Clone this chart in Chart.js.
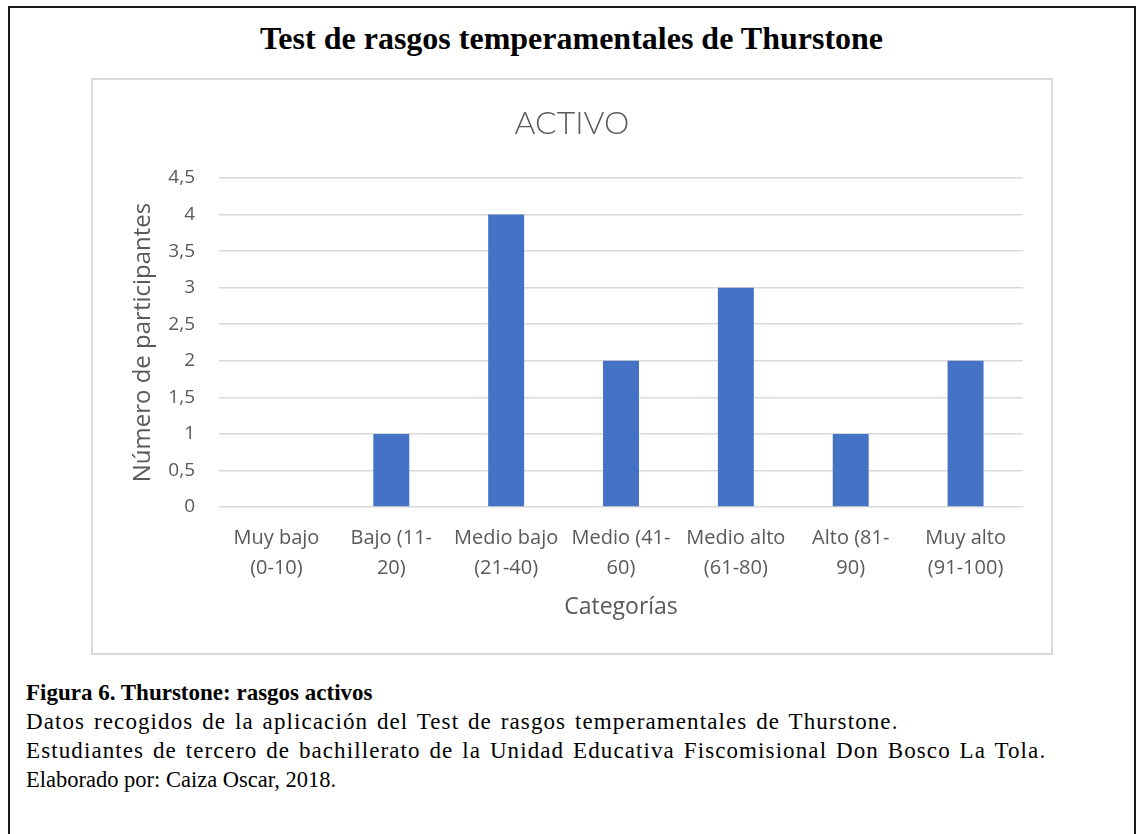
<!DOCTYPE html>
<html>
<head>
<meta charset="utf-8">
<script src="https://cdn.jsdelivr.net/npm/chart.js@4/dist/chart.umd.min.js"></script>
<style>
  html, body { margin: 0; padding: 0; background: #fff; }
  body { width: 1143px; height: 834px; position: relative; overflow: hidden; }
  #frame { position: absolute; left: 8px; top: 6px; width: 1124px; height: 900px; border: 2px solid #1a1a1a; }
  #mainTitle { position: absolute; left: 0; top: 18px; width: 1143px; text-align: center;
    font-family: "Liberation Serif", "Times New Roman", serif; font-weight: bold; font-size: 32px; line-height: 40px; color: #000; }
  #box { position: absolute; left: 91px; top: 78px; width: 958px; height: 573px; border: 2px solid #d9d9d9; }
  #box canvas { display: block; }
  #caption { position: absolute; left: 26px; top: 678px; font-family: "Liberation Serif", "Times New Roman", serif;
    font-size: 23px; line-height: 29px; color: #000; white-space: nowrap; }
  #caption b { font-weight: bold; }
  #caption .wide { letter-spacing: 1.1px; word-spacing: 2px; }
  #caption .last { font-size: 22.5px; }
</style>
</head>
<body>
<div id="frame"></div>
<div id="mainTitle">Test de rasgos temperamentales de Thurstone</div>
<div id="box"><canvas id="c" width="958" height="573"></canvas></div>
<div id="caption">
  <b>Figura 6. Thurstone: rasgos activos</b><br>
  <span class="wide">Datos recogidos de la aplicación del Test de rasgos temperamentales de Thurstone.</span><br>
  <span class="wide">Estudiantes de tercero de bachillerato de la Unidad Educativa Fiscomisional Don Bosco La Tola.</span><br>
  <span class="last">Elaborado por: Caiza Oscar, 2018.</span>
</div>
<script>
const categories = [
  ["Muy bajo", "(0-10)"],
  ["Bajo (11-", "20)"],
  ["Medio bajo", "(21-40)"],
  ["Medio (41-", "60)"],
  ["Medio alto", "(61-80)"],
  ["Alto (81-", "90)"],
  ["Muy alto", "(91-100)"]
];
const participantes = [0, 1, 4, 2, 3, 1, 2];
const chartTitle = "ACTIVO";
const yAxisTitle = "Número de participantes";
const xAxisTitle = "Categorías";

const FONT = "'Open Sans', Lato, sans-serif";
const TITLE_FONT = "Lato, 'Open Sans', sans-serif";
const GREY = "#595959";

new Chart(document.getElementById("c"), {
  type: "bar",
  data: {
    labels: categories,
    datasets: [{
      data: participantes,
      backgroundColor: "#4472C4",
      borderWidth: 0,
      barPercentage: 0.313,
      categoryPercentage: 1.0,
      yAxisID: "y"
    }]
  },
  options: {
    responsive: false,
    animation: false,
    layout: { padding: 0 },
    plugins: {
      legend: { display: false },
      tooltip: { enabled: false },
      title: {
        display: true,
        text: chartTitle,
        color: GREY,
        font: { family: TITLE_FONT, size: 32, weight: "300", lineHeight: 1.2 },
        padding: { top: 24.8, bottom: 34.8 }
      }
    },
    scales: {
      x: {
        grid: { display: false, drawTicks: false },
        border: { display: false },
        ticks: {
          color: GREY,
          maxRotation: 0,
          autoSkip: false,
          padding: 16,
          font: { family: FONT, size: 20, lineHeight: 30 / 20 }
        },
        title: {
          display: true,
          text: xAxisTitle,
          color: GREY,
          font: { family: FONT, size: 23, lineHeight: 1.2 },
          padding: { top: 0, bottom: 32.2 }
        },
        afterFit: (s) => { s.height = 146; }
      },
      y: {
        min: 0,
        max: 4.5,
        grid: { color: "#d9d9d9", lineWidth: 1.5, drawTicks: false },
        border: { display: false },
        ticks: {
          stepSize: 0.5,
          color: GREY,
          padding: 24,
          font: { family: FONT, size: 19 },
          callback: (v) => String(v).replace(".", ",")
        },
        title: {
          display: true,
          text: yAxisTitle,
          color: GREY,
          font: { family: FONT, size: 24, lineHeight: 1.2 },
          padding: { top: 35.6, bottom: 0 }
        },
        afterFit: (s) => { s.width = 126; }
      },
      yRight: {
        position: "right",
        min: 0,
        max: 4.5,
        grid: { display: false, drawTicks: false },
        border: { display: false },
        ticks: { display: false },
        afterFit: (s) => { s.width = 28; }
      }
    }
  }
});
</script>
</body>
</html>
